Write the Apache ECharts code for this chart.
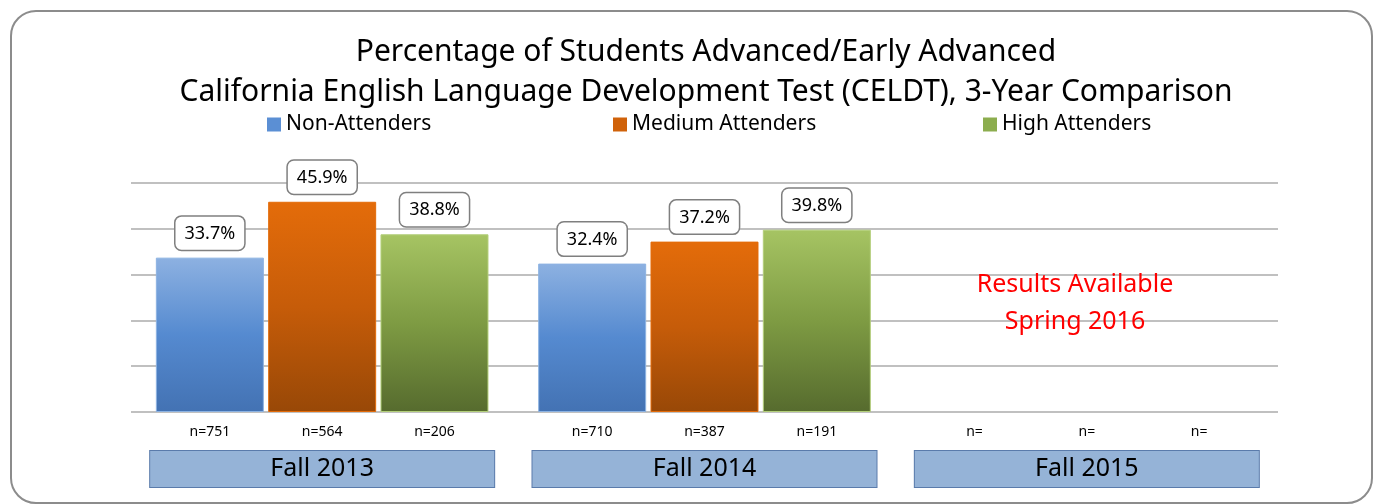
<!DOCTYPE html>
<html>
<head>
<meta charset="utf-8">
<script src="https://cdn.jsdelivr.net/npm/echarts@6/dist/echarts.min.js"></script>
<style>
  html, body { margin: 0; padding: 0; background: #fff; }
  #frame {
    position: absolute; left: 10px; top: 10px; width: 1363px; height: 494px;
    border: 2px solid #8c8c8c; border-radius: 26px; box-sizing: border-box;
    pointer-events: none;
  }
  #chart { position: absolute; left: 0; top: 0; width: 1375px; height: 504px; }
</style>
</head>
<body>
<div id="chart"></div>
<div id="frame"></div>
<script>
const terms = ['Fall 2013', 'Fall 2014', 'Fall 2015']
const groups = ['Non-Attenders', 'Medium Attenders', 'High Attenders']
const nonAttenders = [33.7, 32.4, null]
const mediumAttenders = [45.9, 37.2, null]
const highAttenders = [38.8, 39.8, null]
const nNon = [751, 710, null]
const nMedium = [564, 387, null]
const nHigh = [206, 191, null]

const font = '"Noto Sans", "Open Sans", sans-serif'

function grad (top, mid, bottom) {
  return {
    type: 'linear', x: 0, y: 0, x2: 0, y2: 1,
    colorStops: [
      { offset: 0, color: top },
      { offset: 0.5, color: mid },
      { offset: 1, color: bottom }
    ]
  }
}

const fills = [
  grad('#8db1e1', '#558ad0', '#4372b3'),
  grad('#e46c0a', '#c65c09', '#984807'),
  grad('#a6c463', '#7e9b43', '#566b2e')
]
const borders = ['#8db3e2', '#e46c0a', '#b3cf7a']
const legendColors = ['#5b8fd4', '#d0620a', '#8cad4e']
const values = [nonAttenders, mediumAttenders, highAttenders]
const counts = [nNon, nMedium, nHigh]

const chart = echarts.init(document.getElementById('chart'))

const mainSeries = groups.map((name, i) => ({
  name: name,
  type: 'bar',
  xAxisIndex: 0,
  barGap: '4%',
  barCategoryGap: '13%',
  data: values[i],
  itemStyle: { color: fills[i], borderColor: borders[i], borderWidth: 1 },
  label: {
    show: true,
    position: 'top',
    distance: 8,
    formatter: p => p.value.toFixed(1) + '%',
    fontFamily: font,
    fontSize: 18,
    color: '#000',
    backgroundColor: '#fff',
    borderColor: '#7f7f7f',
    borderWidth: 1.5,
    borderRadius: 6,
    padding: [8, 9, 7, 9]
  }
}))

const countSeries = groups.map((name, i) => ({
  name: 'n-' + name,
  type: 'bar',
  xAxisIndex: 1,
  barGap: '4%',
  barCategoryGap: '13%',
  data: counts[i].map(() => 0),
  itemStyle: { color: 'transparent' },
  silent: true,
  label: {
    show: true,
    position: 'bottom',
    distance: 13,
    formatter: p => 'n=' + (counts[i][p.dataIndex] == null ? '' : counts[i][p.dataIndex]),
    fontFamily: font,
    fontSize: 14,
    color: '#000'
  }
}))

const legendLefts = [262, 608, 978]

const option = {
  animation: false,
  title: {
    text: 'Percentage of Students Advanced/Early Advanced\nCalifornia English Language Development Test (CELDT), 3-Year Comparison',
    left: 701,
    textAlign: 'center',
    top: 27,
    textStyle: { fontFamily: font, fontWeight: 'normal', fontSize: 30, lineHeight: 40, color: '#000' }
  },
  legend: groups.map((g, i) => ({
    data: [{ name: g, itemStyle: { color: legendColors[i], borderWidth: 0 } }],
    left: legendLefts[i],
    top: 109,
    icon: 'rect',
    itemWidth: 14,
    itemHeight: 14,
    itemGap: 6,
    textStyle: { fontFamily: font, fontSize: 21, color: '#000' }
  })),
  grid: { left: 131, right: 97, top: 183, bottom: 92 },
  xAxis: [
    {
      type: 'category',
      data: terms,
      axisLine: { show: false },
      axisTick: { show: false },
      axisLabel: {
        margin: 39,
        fontFamily: font,
        fontSize: 25,
        color: '#000',
        width: 344,
        height: 36,
        lineHeight: 36,
        align: 'center',
        backgroundColor: '#95b3d7',
        borderColor: '#5a7bab',
        borderWidth: 1,
        padding: 0
      }
    },
    {
      type: 'category',
      data: terms,
      show: false
    }
  ],
  yAxis: {
    type: 'value',
    min: 0,
    max: 50,
    interval: 10,
    axisLabel: { show: false },
    axisLine: { show: false },
    axisTick: { show: false },
    splitLine: { lineStyle: { color: '#c0c0c0', width: 2 } }
  },
  graphic: [
    {
      type: 'text',
      x: 1075,
      y: 266,
      z: 100,
      style: {
        text: 'Results Available\nSpring 2016',
        fill: '#ff0000',
        font: '25px ' + font,
        lineHeight: 37,
        align: 'center'
      }
    }
  ],
  series: mainSeries.concat(countSeries)
}

chart.setOption(option)
</script>
</body>
</html>
